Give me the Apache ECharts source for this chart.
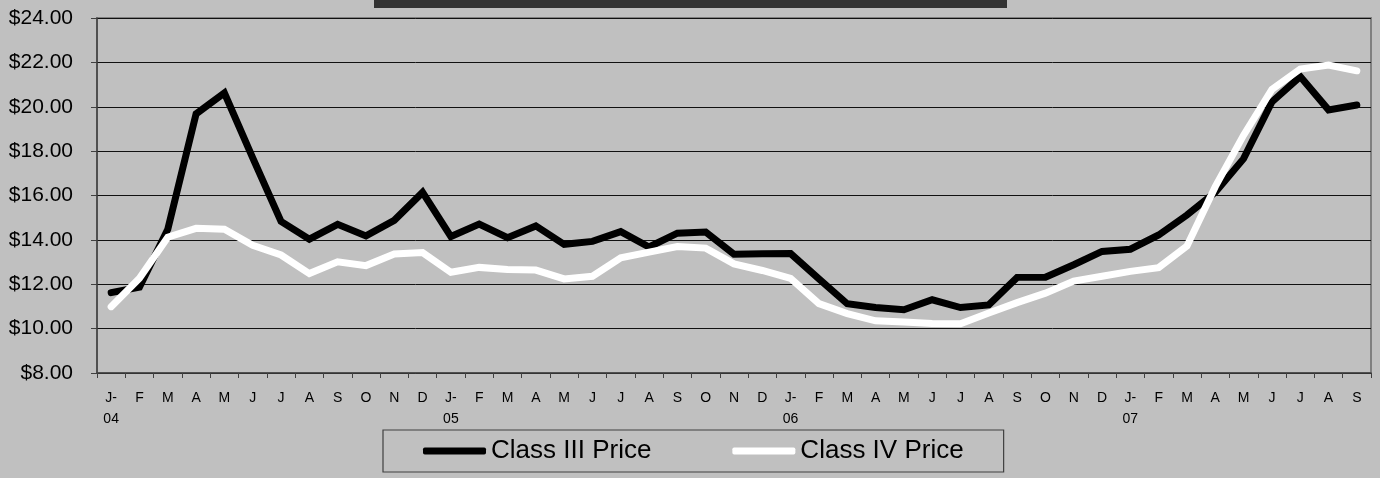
<!DOCTYPE html>
<html>
<head>
<meta charset="utf-8">
<script src="https://cdn.jsdelivr.net/npm/echarts@6/dist/echarts.min.js"></script>
<style>
  html, body { margin: 0; padding: 0; background: #c0c0c0; }
  #chart { width: 1380px; height: 478px; }
</style>
</head>
<body>
<div id="chart"></div>
<script>
// Month labels, Jan 2004 .. Sep 2007 (year shown under each January)
const months = [
  'J-\n04','F','M','A','M','J','J','A','S','O','N','D',
  'J-\n05','F','M','A','M','J','J','A','S','O','N','D',
  'J-\n06','F','M','A','M','J','J','A','S','O','N','D',
  'J-\n07','F','M','A','M','J','J','A','S'
];

// Class III milk price, $/cwt
const classIII = [
  11.62, 11.87, 14.48, 19.68, 20.62, 17.70, 14.83, 14.03, 14.70, 14.18, 14.88, 16.14,
  14.15, 14.71, 14.10, 14.63, 13.80, 13.93, 14.37, 13.68, 14.30, 14.35, 13.35, 13.37,
  13.38, 12.24, 11.12, 10.95, 10.85, 11.30, 10.95, 11.07, 12.31, 12.32, 12.88, 13.48,
  13.58, 14.22, 15.12, 16.15, 17.66, 20.22, 21.36, 19.86, 20.08
];

// Class IV milk price, $/cwt
const classIV = [
  10.99, 12.27, 14.12, 14.52, 14.48, 13.76, 13.32, 12.48, 13.01, 12.84, 13.36, 13.43,
  12.54, 12.76, 12.66, 12.64, 12.24, 12.36, 13.19, 13.45, 13.70, 13.63, 12.92, 12.62,
  12.26, 11.13, 10.68, 10.35, 10.30, 10.23, 10.22, 10.70, 11.17, 11.60, 12.14, 12.36,
  12.58, 12.75, 13.72, 16.40, 18.72, 20.78, 21.70, 21.88, 21.62
];

// Value axis range and step
const yMin = 8, yMax = 24, yStep = 2;

const chart = echarts.init(document.getElementById('chart'), null, { renderer: 'canvas' });

const font = 'Arial, "Liberation Sans", sans-serif';

chart.setOption({
  backgroundColor: '#c0c0c0',
  animation: false,
  graphic: [
    { type: 'rect', left: 374, top: 0, shape: { width: 633, height: 8 }, style: { fill: '#333333' }, z: 10 }
  ],
  grid: {
    left: 97, right: 9, top: 18, bottom: 105,
    show: true, borderColor: '#808080', borderWidth: 2, backgroundColor: 'transparent'
  },
  legend: {
    data: ['Class III Price', 'Class IV Price'],
    left: 383, top: 430,
    padding: [8, 40, 8, 40],
    backgroundColor: '#c0c0c0',
    borderColor: '#404040', borderWidth: 1.2,
    itemWidth: 63, itemHeight: 7, itemGap: 81,
    icon: 'roundRect',
    textStyle: { fontFamily: font, fontSize: 26, color: '#000' }
  },
  xAxis: {
    type: 'category',
    data: months,
    boundaryGap: true,
    axisLine: { lineStyle: { color: '#404040', width: 1.5 } },
    axisTick: { show: true, interval: 0, length: 5, lineStyle: { color: '#404040' } },
    axisLabel: {
      interval: 0, margin: 15, color: '#000',
      fontFamily: font, fontSize: 14, lineHeight: 21
    },
    splitLine: { show: false }
  },
  yAxis: {
    type: 'value',
    min: yMin, max: yMax, interval: yStep,
    axisLine: { show: true, lineStyle: { color: '#404040', width: 1.5 } },
    axisTick: { show: true, length: 6, lineStyle: { color: '#404040' } },
    axisLabel: {
      margin: 24, color: '#000', fontFamily: font, fontSize: 21,
      formatter: v => '$' + v.toFixed(2)
    },
    splitLine: { show: true, lineStyle: { color: '#111', width: 1 } }
  },
  series: [
    {
      name: 'Class III Price', type: 'line', data: classIII,
      showSymbol: false, symbol: 'none',
      lineStyle: { color: '#000000', width: 7, cap: 'round', join: 'miter' },
      itemStyle: { color: '#000000' }
    },
    {
      name: 'Class IV Price', type: 'line', data: classIV,
      showSymbol: false, symbol: 'none',
      lineStyle: { color: '#ffffff', width: 7, cap: 'round', join: 'miter' },
      itemStyle: { color: '#ffffff' }
    }
  ]
});
</script>
</body>
</html>
